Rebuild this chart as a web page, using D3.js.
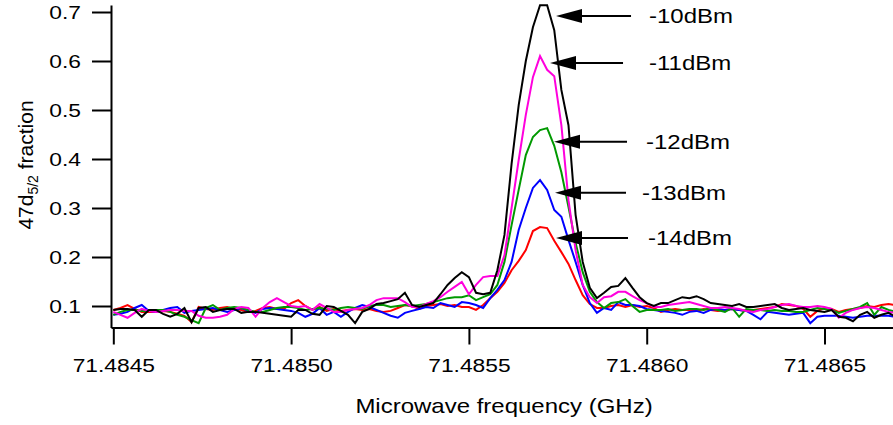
<!DOCTYPE html>
<html lang="en">
<head>
<title>47d5/2 fraction vs microwave frequency</title>
<script src="https://d3js.org/d3.v7.min.js"></script>
<style>
body { margin: 0; background: #fff; }
text { font-family: "Liberation Sans", Arial, sans-serif; fill: #000; }
</style>
</head>
<body>
<div id="chart"></div>
<script>

var w = 893;
var h = 425;
var stretch = 1.2;   // text in the picture is wider than plain Arial

// frequency sweep (GHz): start and step of the scan
var freqStart = 71.4845;
var freqStep = 0.00002;

// 47d5/2 fraction, one value per sweep point
var pow10 = [0.092,0.094,0.094,0.092,0.078,0.092,0.092,0.084,0.078,0.084,
  0.096,0.067,0.096,0.098,0.088,0.092,0.094,0.094,0.086,0.088,
  0.088,0.086,0.084,0.082,0.080,0.078,0.092,0.092,0.084,0.082,
  0.100,0.098,0.090,0.082,0.065,0.088,0.094,0.104,0.106,0.110,
  0.114,0.127,0.102,0.098,0.102,0.106,0.124,0.143,0.157,0.169,
  0.159,0.127,0.124,0.127,0.173,0.245,0.390,0.510,0.600,0.669,
  0.714,0.714,0.663,0.541,0.469,0.286,0.190,0.137,0.116,0.127,
  0.139,0.141,0.157,0.137,0.118,0.106,
  0.100,0.106,0.106,0.112,0.118,0.116,0.120,0.114,0.106,0.104,
  0.102,0.100,0.104,0.098,0.098,0.100,0.102,0.104,0.096,0.092,
  0.094,0.096,0.092,0.090,0.088,0.092,0.078,0.076,0.069,0.082,
  0.088,0.076,0.082,0.086,0.078];

var pow11 = [0.088,0.082,0.076,0.086,0.094,0.090,0.088,0.090,0.092,0.092,
  0.090,0.090,0.080,0.076,0.076,0.078,0.082,0.094,0.098,0.096,
  0.078,0.096,0.108,0.116,0.108,0.100,0.098,0.100,0.092,0.104,
  0.096,0.088,0.088,0.092,0.094,0.096,0.102,0.112,0.116,0.116,
  0.116,0.108,0.098,0.098,0.104,0.110,0.118,0.129,0.139,0.149,
  0.124,0.143,0.159,0.161,0.161,0.204,0.300,0.398,0.490,0.567,
  0.610,0.582,0.569,0.469,0.316,0.214,0.143,0.118,0.106,0.118,
  0.120,0.129,0.129,0.120,0.112,0.106,
  0.098,0.098,0.102,0.104,0.106,0.108,0.104,0.100,0.096,0.096,
  0.098,0.096,0.094,0.090,0.088,0.092,0.094,0.098,0.102,0.104,
  0.100,0.098,0.098,0.100,0.098,0.094,0.076,0.086,0.092,0.096,
  0.098,0.096,0.092,0.088,0.086];

var pow12 = [0.082,0.088,0.092,0.092,0.090,0.090,0.092,0.092,0.088,0.082,
  0.078,0.071,0.065,0.096,0.102,0.092,0.096,0.098,0.096,0.092,
  0.088,0.088,0.092,0.096,0.098,0.098,0.096,0.092,0.094,0.096,
  0.094,0.092,0.096,0.098,0.096,0.094,0.100,0.102,0.102,0.098,
  0.100,0.102,0.100,0.102,0.104,0.108,0.112,0.116,0.118,0.118,
  0.122,0.112,0.118,0.124,0.143,0.190,0.265,0.337,0.408,0.445,
  0.459,0.463,0.427,0.373,0.302,0.229,0.169,0.129,0.108,0.096,
  0.106,0.108,0.114,0.100,0.088,0.092,
  0.092,0.092,0.094,0.090,0.092,0.094,0.094,0.092,0.096,0.092,
  0.088,0.096,0.078,0.094,0.092,0.092,0.090,0.092,0.090,0.090,
  0.088,0.088,0.092,0.096,0.094,0.092,0.086,0.090,0.094,0.098,
  0.106,0.082,0.098,0.092,0.088];

var pow13 = [0.082,0.084,0.088,0.096,0.102,0.090,0.088,0.092,0.096,0.098,
  0.086,0.090,0.092,0.094,0.096,0.092,0.088,0.092,0.096,0.090,
  0.086,0.094,0.096,0.094,0.092,0.090,0.086,0.078,0.084,0.096,
  0.082,0.088,0.078,0.088,0.096,0.102,0.098,0.092,0.086,0.080,
  0.076,0.086,0.090,0.094,0.098,0.096,0.106,0.102,0.098,0.108,
  0.106,0.102,0.096,0.116,0.133,0.153,0.190,0.255,0.300,0.341,
  0.357,0.337,0.296,0.282,0.235,0.190,0.143,0.106,0.086,0.096,
  0.092,0.108,0.102,0.102,0.100,0.094,
  0.092,0.090,0.088,0.086,0.082,0.088,0.090,0.086,0.092,0.094,
  0.092,0.094,0.092,0.090,0.082,0.073,0.088,0.086,0.084,0.082,
  0.084,0.086,0.065,0.078,0.080,0.080,0.080,0.078,0.076,0.078,
  0.080,0.080,0.080,0.080,0.078];

var pow14 = [0.092,0.096,0.102,0.094,0.088,0.088,0.088,0.090,0.088,0.084,
  0.080,0.067,0.098,0.094,0.092,0.096,0.098,0.094,0.092,0.088,
  0.090,0.096,0.098,0.094,0.094,0.106,0.112,0.100,0.092,0.098,
  0.090,0.094,0.090,0.092,0.094,0.092,0.094,0.090,0.088,0.090,
  0.096,0.102,0.100,0.094,0.100,0.102,0.104,0.100,0.102,0.098,
  0.098,0.092,0.102,0.116,0.129,0.147,0.173,0.192,0.214,0.253,
  0.261,0.259,0.233,0.210,0.186,0.153,0.122,0.104,0.096,0.096,
  0.100,0.102,0.098,0.102,0.098,0.100,
  0.096,0.088,0.092,0.094,0.092,0.092,0.090,0.094,0.092,0.090,
  0.092,0.094,0.092,0.090,0.092,0.094,0.096,0.098,0.104,0.102,
  0.100,0.094,0.078,0.090,0.096,0.094,0.088,0.092,0.094,0.096,
  0.100,0.098,0.102,0.104,0.102];

// drawing order: red first, black last (on top)
var seriesNames = ["-14dBm", "-13dBm", "-12dBm", "-11dBm", "-10dBm"];
var seriesValues = [pow14, pow13, pow12, pow11, pow10];
var seriesColors = ["#ff0000", "#0000ff", "#009900", "#ff00dd", "#000000"];

// arrow annotations (data units)
var arrowLabels = ["-10dBm", "-11dBm", "-12dBm", "-13dBm", "-14dBm"];
var arrowLevel = [0.692, 0.596, 0.435, 0.331, 0.239];
var arrowTip = [71.4857449, 71.4857281, 71.4857393, 71.4857421, 71.4857449];
var arrowTail = [71.4859559, 71.4859334, 71.4859446, 71.4859418, 71.4859474];
var labelFreq = [71.4860065, 71.4860065, 71.4859981, 71.4859868, 71.4860037];

var xTicks = [71.4845, 71.4850, 71.4855, 71.4860, 71.4865];
var yTicks = [0.1, 0.2, 0.3, 0.4, 0.5, 0.6, 0.7];

var xScale = d3.scaleLinear()
  .domain([71.4844935, 71.4866926])
  .range([111, 893]);

var yScale = d3.scaleLinear()
  .domain([0.05612, 0.71429])
  .range([327.5, 5]);

var svg = d3.select("#chart")
  .append("svg")
  .attr("width", w)
  .attr("height", h);

svg.append("clipPath")
  .attr("id", "plotclip")
  .append("rect")
  .attr("x", 111).attr("y", 4)
  .attr("width", 782).attr("height", 324);

// traces
var line = d3.line()
  .x(function(d, i) { return xScale(freqStart + i * freqStep); })
  .y(function(d) { return yScale(d); });

svg.append("g")
  .attr("clip-path", "url(#plotclip)")
  .selectAll("path")
  .data(seriesValues)
  .enter()
  .append("path")
  .attr("d", line)
  .attr("fill", "none")
  .attr("stroke", function(d, i) { return seriesColors[i]; })
  .attr("stroke-width", 2);

// y axis
var yAxis = svg.append("g")
  .attr("transform", "translate(111,0)")
  .call(d3.axisLeft(yScale)
    .tickValues(yTicks)
    .tickSize(19)
    .tickSizeOuter(0)
    .tickFormat(d3.format(".1f")));
yAxis.selectAll("path, line").attr("stroke", "#000").attr("stroke-width", 2);
yAxis.selectAll("text")
  .attr("x", -30 / stretch)
  .attr("transform", "scale(" + stretch + ",1)")
  .style("font-size", "19px");

// x axis
var xAxis = svg.append("g")
  .attr("transform", "translate(0,327.5)")
  .call(d3.axisBottom(xScale)
    .tickValues(xTicks)
    .tickSize(17)
    .tickSizeOuter(0)
    .tickPadding(14)
    .tickFormat(d3.format(".4f")));
xAxis.selectAll("path, line").attr("stroke", "#000").attr("stroke-width", 2);
xAxis.selectAll("text")
  .attr("transform", "scale(" + stretch + ",1)")
  .style("font-size", "19px");

// axis titles
svg.append("text")
  .attr("transform", "translate(504,413) scale(" + stretch + ",1)")
  .style("text-anchor", "middle")
  .style("font-size", "20px")
  .text("Microwave frequency (GHz)");

var yTitle = svg.append("text")
  .attr("transform", "translate(33,165) rotate(-90)")
  .style("text-anchor", "middle")
  .style("font-size", "21px");
yTitle.append("tspan").text("47d");
yTitle.append("tspan").attr("dy", 5).style("font-size", "14px").text("5/2");
yTitle.append("tspan").attr("dy", -5).text(" fraction");

// arrows with labels
var arrows = svg.selectAll("g.arrow")
  .data(arrowLabels)
  .enter()
  .append("g")
  .attr("class", "arrow");

arrows.append("line")
  .attr("x1", function(d, i) { return xScale(arrowTip[i]) + 20; })
  .attr("x2", function(d, i) { return xScale(arrowTail[i]); })
  .attr("y1", function(d, i) { return yScale(arrowLevel[i]); })
  .attr("y2", function(d, i) { return yScale(arrowLevel[i]); })
  .attr("stroke", "#000")
  .attr("stroke-width", 2);

arrows.append("path")
  .attr("d", function(d, i) {
    var x0 = xScale(arrowTip[i]), y0 = yScale(arrowLevel[i]);
    return "M" + x0 + "," + y0 + "L" + (x0 + 26) + "," + (y0 - 7) +
      "L" + (x0 + 26) + "," + (y0 + 7) + "Z";
  })
  .attr("fill", "#000");

arrows.append("text")
  .attr("transform", function(d, i) {
    return "translate(" + xScale(labelFreq[i]) + "," + yScale(arrowLevel[i]) + ") scale(" + stretch + ",1)";
  })
  .attr("dy", "0.36em")
  .style("font-size", "20px")
  .text(function(d) { return d; });

</script>
</body>
</html>
